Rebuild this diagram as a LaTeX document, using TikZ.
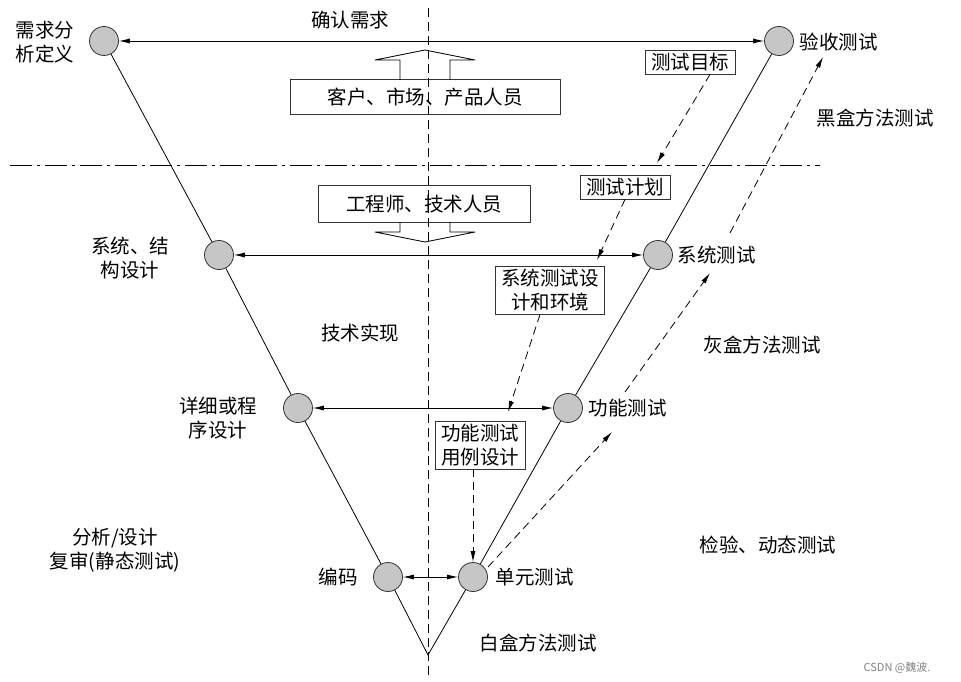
\documentclass[tikz,border=0pt]{standalone}
\usepackage{fontspec}
\setmainfont{Noto Sans CJK SC}
\usetikzlibrary{arrows.meta}
\tikzset{
  stage/.style={circle, fill=gray!45, draw=black!80, minimum size=29pt, inner sep=0pt},
  lbl/.style={font=\fontsize{19.5}{24}\selectfont, align=center},
  box/.style={draw=black!80, thick, lbl, inner xsep=6pt, inner ysep=3pt},
  dbl/.style={{Latex[length=11pt,width=5pt]}-{Latex[length=11pt,width=5pt]}},
  dsh/.style={dashed, dash pattern=on 8pt off 5pt, -{Latex[length=11pt,width=5pt]}}
}
\begin{document}
\begin{tikzpicture}[x=1pt,y=-1pt,line width=0.8pt]
\useasboundingbox (0,0) rectangle (961,682);
% helper lines
\draw [dashed, dash pattern=on 9pt off 5pt] (428,8) -- (428,675);
\draw [dash pattern=on 22pt off 5pt on 3pt off 5pt] (10,165) -- (820,165);
% stages
\node [stage] (req) at (104,41) {};
\node [stage] (acc) at (779,41) {};
\node [stage] (sysd) at (219,255) {};
\node [stage] (syst) at (658,255) {};
\node [stage] (det) at (298,408) {};
\node [stage] (fun) at (568,408) {};
\node [stage] (code) at (388,577) {};
\node [stage] (unit) at (473,577) {};
\coordinate (apex) at (428,655);
% V
\draw (req) -- (sysd) -- (det) -- (code) -- (apex) -- (unit) -- (fun) -- (syst) -- (acc);
\draw [dbl] (req) -- (acc);
\draw [dbl] (sysd) -- (syst);
\draw [dbl] (det) -- (fun);
\draw [dbl] (code) -- (unit);
% stage labels
\node [lbl] (lreq) at (45,42) {需求分\\析定义};
\node [lbl, right] (lacc) at (796,42) {验收测试};
\node [lbl] (lsysd) at (130,258) {系统、结\\构设计};
\node [lbl, right] (lsyst) at (674,255) {系统测试};
\node [lbl] (ldet) at (218,418) {详细或程\\序设计};
\node [lbl, right] (lfun) at (585,408) {功能测试};
\node [lbl] (lcode) at (338,577) {编码};
\node [lbl, right] (lunit) at (492,577) {单元测试};
% other texts
\node [lbl] (conf) at (350,20) {确认需求};
\node [lbl] (black) at (875,118) {黑盒方法测试};
\node [lbl] (tech) at (360,333) {技术实现};
\node [lbl] (grey) at (762,345) {灰盒方法测试};
\node [lbl] (stat) at (115,550) {分析/设计\\复审(静态测试)};
\node [lbl] (dyn) at (768,545) {检验、动态测试};
\node [lbl] (white) at (538,643) {白盒方法测试};
\node [font=\fontsize{11}{13}\selectfont, text=gray] (csdn) at (897,668) {CSDN @魏波.};
% people boxes with hollow arrows
\node [box, minimum width=270pt, minimum height=35pt] (cust) at (425,97) {客户、市场、产品人员};
\draw (400,80) -- (400,60) -- (375,60) -- (425,50) -- (475,60) -- (450,60) -- (450,80);
\node [box, minimum width=212pt, minimum height=37pt] (eng) at (424,204) {工程师、技术人员};
\draw (400,222) -- (400,232) -- (375,232) -- (425,242) -- (475,232) -- (450,232) -- (450,222);
% test boxes
\node [box] (goal) at (690,62) {测试目标};
\node [box] (plan) at (625,187) {测试计划};
\node [box] (sysb) at (550,290) {系统测试设\\计和环境};
\node [box] (funb) at (480,445) {功能测试\\用例设计};
\draw [dsh] (goal.south) ++(20,0) coordinate (g0) -- (657,163);
\draw [dsh] (plan.south) -- (597,260);
\draw [dsh] (sysb.south) ++(-10,0) coordinate (s0) -- (508,412);
\draw [dsh] (funb.south -| unit) -- (unit.north);
% rising dashed arrows
\coordinate (r0) at (488,567);
\coordinate (r1) at (612,432);
\coordinate (r2) at (625,392);
\coordinate (r3) at (710,273);
\coordinate (r4) at (730,233);
\coordinate (r5) at (823,57);
\draw [dsh] (r0) -- (r1);
\draw [dsh] (r2) -- (r3);
\draw [dsh] (r4) -- (r5);
\end{tikzpicture}
\end{document}
